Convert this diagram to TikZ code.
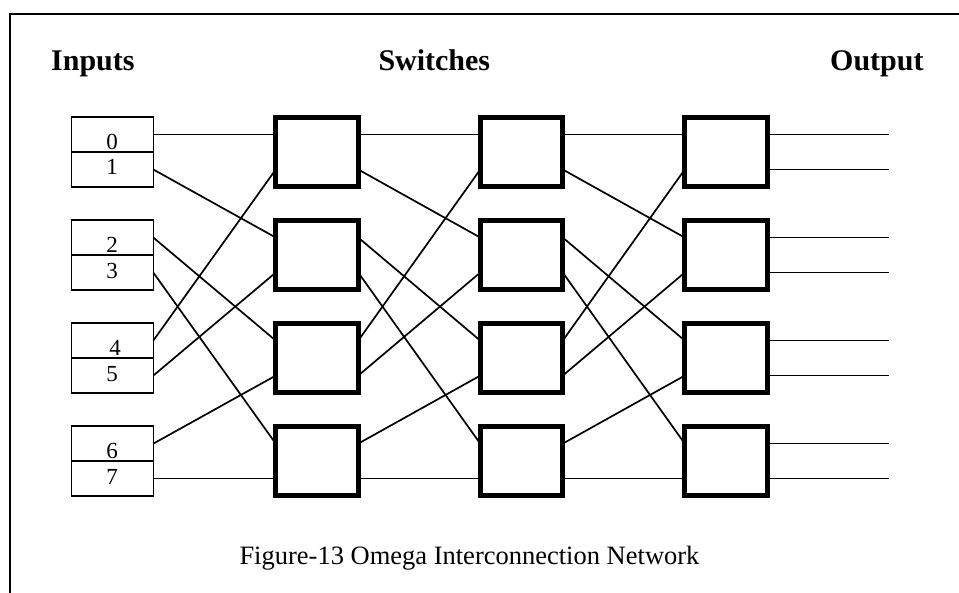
\documentclass[tikz,border=0pt]{standalone}
\usepackage{fontspec}
\setmainfont{Liberation Serif}
\pgfdeclarelayer{wires}
\pgfsetlayers{wires,main}
\begin{document}
\begin{tikzpicture}[x=1pt,y=-1pt,
  heading/.style={font=\fontsize{30}{36}\selectfont\bfseries, inner sep=0, anchor=base west},
  caption/.style={font=\fontsize{26.5}{32}\selectfont, inner sep=0, anchor=base west},
  cell/.style={draw, line width=1.5pt, minimum width=81.6pt, minimum height=35pt, inner sep=0, outer sep=0},
  digit/.style={font=\fontsize{23}{27}\selectfont, inner sep=0, anchor=base},
  switchbox/.style={draw, fill=white, line width=5pt, minimum width=82.5pt, minimum height=69pt, inner sep=0, outer sep=0},
  wire/.style={line width=1.7pt},
  frame/.style={line width=1.7pt}]
\useasboundingbox (0,0) rectangle (959,593);

% frame along the top and left
\draw[frame] (10,593) -- (10,14) -- (959,14);

% column headings
\node[heading] (hin)  at (51,70.7)    {Inputs};
\node[heading] (hsw)  at (378.3,70.7) {Switches};
\node[heading] (hout) at (830,70.7)   {Output};

% input cells, two per box
\node[cell] (in0) at (112.5,134.5)  {};
\node[cell] (in1) at (112.5,169.5)  {};
\node[cell] (in2) at (112.5,237.55) {};
\node[cell] (in3) at (112.5,272.55) {};
\node[cell] (in4) at (112.5,340.6)  {};
\node[cell] (in5) at (112.5,375.6)  {};
\node[cell] (in6) at (112.5,443.65) {};
\node[cell] (in7) at (112.5,478.65) {};

% input numbers, set close to the dividing line
\node[digit] (d0) at (112,149.2)  {0};
\node[digit] (d1) at (112,175)    {1};
\node[digit] (d2) at (112,252.25) {2};
\node[digit] (d3) at (112,278.05) {3};
\node[digit] (d4) at (115,355.3)  {4};
\node[digit] (d5) at (112,381.1)  {5};
\node[digit] (d6) at (112,458.35) {6};
\node[digit] (d7) at (112,484.15) {7};

% three stages of 2x2 switches
\foreach \s/\x in {0/317,1/521.5,2/726} {
  \foreach \k/\y in {0/152,1/255.05,2/358.1,3/461.15} {
    \node[switchbox] (sw\s-\k) at (\x,\y) {};
    \coordinate (sw\s-\k-i0) at ([yshift=17.5pt]sw\s-\k.west);
    \coordinate (sw\s-\k-i1) at ([yshift=-17.5pt]sw\s-\k.west);
    \coordinate (sw\s-\k-o0) at ([yshift=17.5pt]sw\s-\k.east);
    \coordinate (sw\s-\k-o1) at ([yshift=-17.5pt]sw\s-\k.east);
  }
}
\coordinate (rim) at (889,0);

\begin{pgfonlayer}{wires}
  % perfect shuffle from the inputs into the first stage
  \foreach \j/\kb/\bb in {0/0/0,1/1/0,2/2/0,3/3/0,4/0/1,5/1/1,6/2/1,7/3/1}
    \draw[wire] (in\j.east) -- (sw0-\kb-i\bb);
  % perfect shuffle between consecutive stages
  \foreach \s/\t in {0/1,1/2}
    \foreach \ka/\ba/\kb/\bb in {0/0/0/0,0/1/1/0,1/0/2/0,1/1/3/0,2/0/0/1,2/1/1/1,3/0/2/1,3/1/3/1}
      \draw[wire] (sw\s-\ka-o\ba) -- (sw\t-\kb-i\bb);
  % output lines
  \foreach \k in {0,...,3}
    \foreach \b in {0,1} {
      \coordinate (out\k-\b) at (sw2-\k-o\b -| rim);
      \draw[wire] (sw2-\k-o\b) -- (out\k-\b);
    }
\end{pgfonlayer}

% caption
\node[caption] (cap) at (239.3,564.3) {Figure-13 Omega Interconnection Network};
\end{tikzpicture}
\end{document}
